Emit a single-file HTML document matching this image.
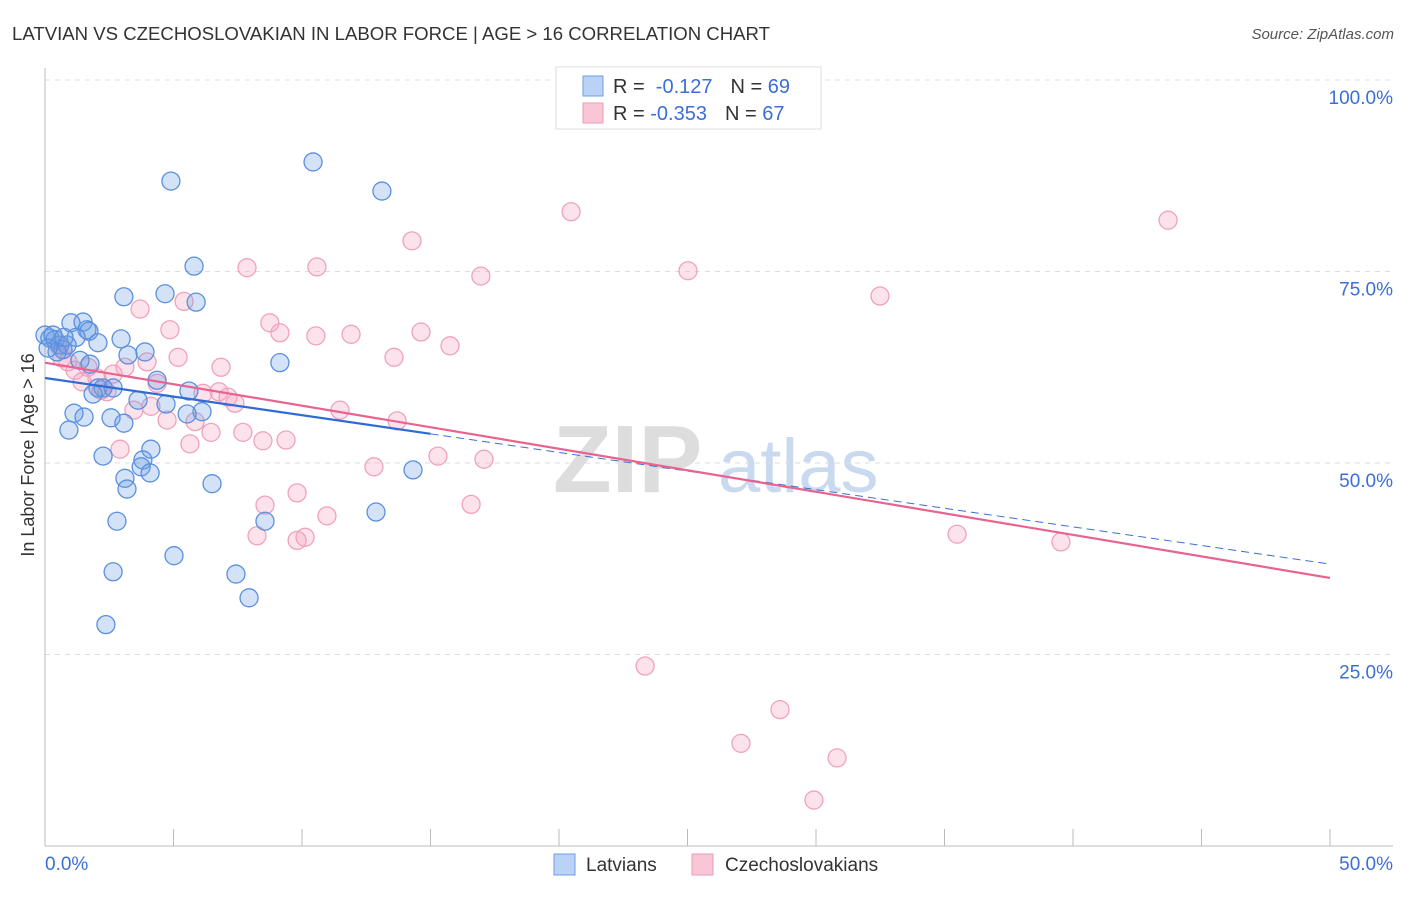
<!DOCTYPE html>
<html><head><meta charset="utf-8"><style>
body{margin:0;background:#fff;font-family:"Liberation Sans",sans-serif;}
svg text{font-family:"Liberation Sans",sans-serif;}
</style></head><body>
<svg id="chart" width="1406" height="892" viewBox="0 0 1406 892">
<text x="12" y="40" font-size="18" fill="#333" textLength="758" lengthAdjust="spacingAndGlyphs">LATVIAN VS CZECHOSLOVAKIAN IN LABOR FORCE | AGE &gt; 16 CORRELATION CHART</text>
<text x="1394" y="39" font-size="15" fill="#555" font-style="italic" text-anchor="end">Source: ZipAtlas.com</text>
<g>
<text x="553" y="492" font-size="96" fill="#ddd" font-family="Liberation Serif" font-weight="bold">ZIP</text>
<text x="718" y="492" font-size="76" fill="#c9daf0">atlas</text>
</g>
<g id="grid"></g>
<g id="axes"></g>
<g id="marks"></g>
<text transform="translate(34,455) rotate(-90)" font-size="18" fill="#333" text-anchor="middle">In Labor Force | Age &gt; 16</text>
<g>
<rect x="556" y="67" width="265" height="62" fill="#fff" stroke="#ddd"/>
<rect x="583" y="76" width="20" height="20" fill="#b9d2f5" stroke="#6d9de6"/>
<rect x="583" y="103" width="20" height="20" fill="#f9c6d6" stroke="#ee9ab6"/>
<text x="613" y="93" font-size="20" fill="#333">R = <tspan fill="#3b6fd6">&#160;-0.127</tspan><tspan dx="18">N = </tspan><tspan fill="#3b6fd6">69</tspan></text>
<text x="613" y="120" font-size="20" fill="#333">R = <tspan fill="#3b6fd6">-0.353</tspan><tspan dx="18">N = </tspan><tspan fill="#3b6fd6">67</tspan></text>
</g>
<g>
<rect x="554" y="854" width="21" height="21" fill="#b9d2f5" stroke="#6d9de6"/>
<text x="586" y="871" font-size="19" fill="#333">Latvians</text>
<rect x="692" y="854" width="21" height="21" fill="#f9c6d6" stroke="#ee9ab6"/>
<text x="725" y="871" font-size="19" fill="#333">Czechoslovakians</text>
</g>
</svg>
<script>
const latX=[4.90,10.43,13.11,5.80,3.07,4.67,5.88,1.01,1.48,1.63,1.71,1.21,2.96,2.06,0,0.19,0.39,0.58,0.70,0.86,3.23,3.89,1.36,1.75,9.14,4.36,5.60,2.06,2.26,2.65,1.87,3.62,4.71,6.11,5.53,1.13,1.52,2.57,3.07,0.93,4.12,2.26,3.81,3.74,4.09,3.11,3.19,6.50,14.32,12.88,2.80,8.56,5.02,2.65,7.43,7.94,2.37,0.31,0.47,0.74,0.12];
const latY=[86.8,89.3,85.5,75.7,71.7,72.1,71.0,68.3,68.4,67.4,67.2,66.4,66.2,65.7,66.7,66.3,66.1,65.4,64.8,65.4,64.1,64.5,63.4,62.9,63.1,60.8,59.4,59.8,59.8,59.8,59.0,58.2,57.7,56.7,56.4,56.5,56.0,55.9,55.2,54.3,51.8,50.9,50.4,49.5,48.7,48.0,46.6,47.3,49.1,43.6,42.4,42.4,37.9,35.8,35.5,32.4,28.9,66.7,64.5,66.4,65.0];
const czX=[20.47,43.70,14.28,7.86,10.58,16.96,25.02,32.49,5.41,3.70,8.75,9.14,10.54,11.91,14.63,4.86,15.76,5.18,3.97,13.58,0.66,1.17,1.67,1.44,3.11,6.85,4.36,2.18,2.41,6.15,6.77,7.12,7.39,3.46,4.12,4.75,5.84,11.48,13.70,6.46,7.70,5.64,2.92,8.48,9.38,12.80,15.29,17.08,9.81,8.56,16.58,10.97,8.25,9.81,10.12,35.49,39.53,23.35,28.60,27.08,30.82,29.92,0.89,0.70,0.51,2.02,2.65];
const czY=[82.8,81.7,79.0,75.5,75.6,74.4,75.1,71.8,71.1,70.1,68.3,67.0,66.6,66.8,67.1,67.4,65.3,63.8,63.2,63.8,63.7,62.1,62.5,60.6,62.5,62.5,60.4,59.5,59.3,59.1,59.3,58.6,57.8,56.9,57.4,55.6,55.4,56.9,55.5,54.0,54.0,52.5,51.8,52.9,53.0,49.5,50.9,50.5,46.1,44.5,44.6,43.1,40.5,39.9,40.3,40.7,39.7,23.5,17.8,13.4,11.5,6.0,63.2,64.8,65.4,61.1,61.6];
const latTrend=[61.1,36.8];
const czTrend=[63.1,35.0];
const latSolidEnd=15;
const yTicks=[25,50,75,100];
const yTickLabels=["25.0%","50.0%","75.0%","100.0%"];
const xTicks=[0,5,10,15,20,25,30,35,40,45,50];

const NS="http://www.w3.org/2000/svg";
const X=v=>45+v*25.7;
const Y=v=>846-v*7.66;
function mk(tag,attrs,parent){const e=document.createElementNS(NS,tag);for(const k in attrs)e.setAttribute(k,attrs[k]);parent.appendChild(e);return e;}
const grid=document.getElementById('grid'),axes=document.getElementById('axes'),marks=document.getElementById('marks');
yTicks.forEach((t,i)=>{
 const l=mk('line',{x1:45,x2:1393,y1:Y(t),y2:Y(t),stroke:'#ddd','stroke-dasharray':'5,5'},grid);
 
 
 const tx=mk('text',{x:1393,y:Y(t)+24,'font-size':19,fill:'#3b6fd6','text-anchor':'end'},axes);
 tx.textContent=yTickLabels[i];
 
 
});
const ya=mk('line',{x1:45,x2:45,y1:68,y2:846,stroke:'#bbb'},axes);


const xa=mk('line',{x1:45,x2:1393,y1:846,y2:846,stroke:'#bbb'},axes);


xTicks.forEach(t=>{
 const l=mk('line',{x1:X(t),x2:X(t),y1:829,y2:846,stroke:'#bbb'},axes);
 
 
});
const xl0=mk('text',{x:45,y:870,'font-size':19,fill:'#3b6fd6'},axes);xl0.textContent='0.0%';


const xl1=mk('text',{x:1393,y:870,'font-size':19,fill:'#3b6fd6','text-anchor':'end'},axes);xl1.textContent='50.0%';



czX.forEach((x,i)=>{
 const c=mk('circle',{cx:X(x),cy:Y(czY[i]),r:9,fill:'rgba(244,160,190,0.3)',stroke:'#f0a2bd','stroke-width':1.3},marks);
 
 
});
latX.forEach((x,i)=>{
 const c=mk('circle',{cx:X(x),cy:Y(latY[i]),r:9,fill:'rgba(110,160,230,0.3)',stroke:'#5b8fe0','stroke-width':1.3},marks);
 
 
});
const lt=v=>latTrend[0]+(latTrend[1]-latTrend[0])*v/50;
const ct=v=>czTrend[0]+(czTrend[1]-czTrend[0])*v/50;
const ld=mk('line',{x1:X(latSolidEnd),y1:Y(lt(latSolidEnd)),x2:X(50),y2:Y(lt(50)),stroke:'#3b6fd6','stroke-width':1,'stroke-dasharray':'8,5'},marks);


const cl=mk('line',{x1:X(0),y1:Y(ct(0)),x2:X(50),y2:Y(ct(50)),stroke:'#e8638f','stroke-width':2.2},marks);


const ll=mk('line',{x1:X(0),y1:Y(lt(0)),x2:X(latSolidEnd),y2:Y(lt(latSolidEnd)),stroke:'#2f6bd6','stroke-width':2.2},marks);


</script>
</body></html>
